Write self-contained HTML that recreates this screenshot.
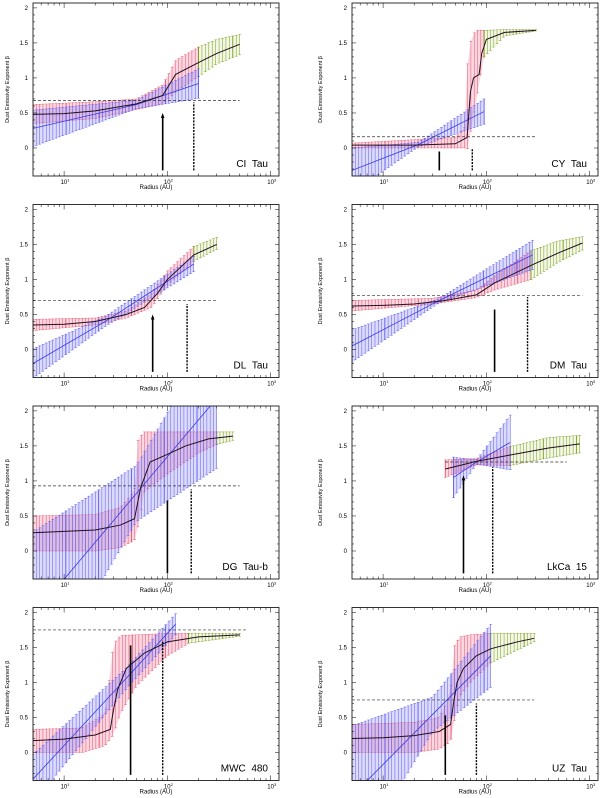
<!DOCTYPE html>
<html><head><meta charset="utf-8"><style>
html,body{margin:0;padding:0;background:#fff;overflow:hidden;}
svg{display:block;font-family:"Liberation Sans",sans-serif;}
</style></head><body>
<svg id="fig" width="600" height="798" viewBox="0 0 600 798" xmlns="http://www.w3.org/2000/svg"></svg>
<script>
// ---- data (radius in AU, beta) ----
const names=["CI Tau","CY Tau","DL Tau","DM Tau","DG Tau-b","LkCa 15","MWC 480","UZ Tau"];
const yTicks=[0,0.5,1,1.5,2];
const yTickLabels=["0","0.5","1","1.5","2"];
const xTicks=[10,100,1000];
const xTickExps=["1","2","3"];

const ciCurveR=[5,10,20,50,90,120,200,300,500], ciCurveB=[0.48,0.49,0.53,0.63,0.75,1.05,1.22,1.35,1.48];
const ciBandR=[5,20,50,90,120,200,300,500], ciLo=[0.35,0.42,0.55,0.63,0.8,1.02,1.2,1.33], ciHi=[0.62,0.66,0.70,0.9,1.25,1.44,1.55,1.62];
const ciBlueR=[5,50,200], ciBlueMid=[0.28,0.62,0.92], ciBlueHalf=[0.26,0.06,0.21];
const ciMarks=[0.68,500,90,0.5,180,0.65,200];

const cyCurveR=[5,20,50,65,70,75,85,90,100,150,300], cyCurveB=[0.04,0.04,0.06,0.15,0.8,1.0,1.05,1.35,1.55,1.65,1.68];
const cyBandR=[5,50,62,65,72,80,95,150,300], cyLo=[0,0,0,-0.05,0.3,0.7,1.3,1.6,1.67], cyHi=[0.07,0.15,0.3,1.15,1.6,1.68,1.68,1.69,1.69];
const cyBlueR=[5,22,95], cyBlueMid=[-0.32,0.05,0.52], cyBlueHalf=[0.32,0.03,0.18];
const cyMarks=[0.16,300,35,-0.05,73,0.0,95];

const dlCurveR=[5,10,20,40,60,80,100,140,180,300], dlCurveB=[0.35,0.36,0.4,0.5,0.6,0.8,1.0,1.2,1.35,1.5];
const dlBandR=[5,20,40,70,100,180,300], dlLo=[0.27,0.35,0.45,0.6,0.92,1.26,1.43], dlHi=[0.43,0.45,0.55,0.8,1.12,1.47,1.6];
const dlBlueR=[5,25,180], dlBlueMid=[-0.2,0.4,1.22], dlBlueHalf=[0.21,0.07,0.11];
const dlMarks=[0.7,300,72,0.5,155,0.65,180];

const dmCurveR=[5,10,20,40,80,120,270,500,850], dmCurveB=[0.62,0.63,0.65,0.7,0.78,0.95,1.2,1.38,1.52];
const dmBandR=[5,30,80,120,270,500,850], dmLo=[0.55,0.65,0.74,0.85,1.0,1.25,1.42], dmHi=[0.7,0.73,0.85,1.05,1.41,1.55,1.61];
const dmBlueR=[5,35,280], dmBlueMid=[0.05,0.7,1.35], dmBlueHalf=[0.23,0.03,0.21];
const dmMarks=[0.77,850,120,0.57,250,0.75,270];

const dgCurveR=[5,10,20,35,48,55,68,100,150,250,430], dgCurveB=[0.26,0.28,0.3,0.37,0.46,0.9,1.27,1.38,1.5,1.6,1.64];
const dgBandR=[5,20,35,48,52,60,100,200,300,430], dgLo=[0,0,0.05,0.15,0.35,0.85,1.1,1.4,1.52,1.58], dgHi=[0.5,0.52,0.62,0.85,1.6,1.7,1.7,1.7,1.7,1.7];
const dgBlueR=[5,50,300], dgBlueMid=[-0.93,0.82,2.18], dgBlueHalf=[1.2,0.4,1.0];
const dgMarks=[0.93,500,100,0.72,170,0.88,300];

const lkCurveR=[40,80,170,400,800], lkCurveB=[1.17,1.28,1.37,1.47,1.53];
const lkBandR=[40,80,170,400,800], lkLo=[1.05,1.23,1.22,1.33,1.4], lkHi=[1.3,1.32,1.49,1.62,1.65];
const lkBlueR=[48,80,170], lkBlueMid=[1.05,1.27,1.55], lkBlueHalf=[0.29,0.03,0.39];
const lkMarks=[1.27,600,60,1.08,115,1.2,170];

const mwCurveR=[5,10,20,28,30,33,40,60,100,200,500], mwCurveB=[0.17,0.19,0.25,0.33,0.6,0.9,1.2,1.42,1.58,1.65,1.68];
const mwBandR=[5,15,25,30,35,50,100,160,500], mwLo=[0,0,0.1,0.25,0.55,0.95,1.38,1.56,1.66], mwHi=[0.33,0.35,0.55,1.55,1.67,1.68,1.7,1.7,1.7];
const mwBlueR=[5,40,120], mwBlueMid=[-0.38,1.06,1.83], mwBlueHalf=[0.35,0.15,0.15];
const mwMarks=[1.75,600,44,1.53,90,1.6,160];

const uzCurveR=[5,10,20,35,45,48,52,60,80,110,200,290], uzCurveB=[0.2,0.21,0.24,0.3,0.4,0.7,1.0,1.2,1.38,1.48,1.58,1.63];
const uzBandR=[5,20,35,45,48,55,70,110,290], uzLo=[0,0,0.05,0.15,0.4,0.8,1.0,1.28,1.58], uzHi=[0.4,0.43,0.5,0.85,1.5,1.65,1.68,1.7,1.7];
const uzBlueR=[5,30,110], uzBlueMid=[-0.62,0.54,1.38], uzBlueHalf=[1.0,0.25,0.45];
const uzMarks=[0.75,290,40,0.53,80,0.7,110];

const arrowHeads=[true,false,true,false,false,true,false,false];

const panels=[
 [ciCurveR,ciCurveB,ciBandR,ciLo,ciHi,ciBlueR,ciBlueMid,ciBlueHalf,ciMarks],
 [cyCurveR,cyCurveB,cyBandR,cyLo,cyHi,cyBlueR,cyBlueMid,cyBlueHalf,cyMarks],
 [dlCurveR,dlCurveB,dlBandR,dlLo,dlHi,dlBlueR,dlBlueMid,dlBlueHalf,dlMarks],
 [dmCurveR,dmCurveB,dmBandR,dmLo,dmHi,dmBlueR,dmBlueMid,dmBlueHalf,dmMarks],
 [dgCurveR,dgCurveB,dgBandR,dgLo,dgHi,dgBlueR,dgBlueMid,dgBlueHalf,dgMarks],
 [lkCurveR,lkCurveB,lkBandR,lkLo,lkHi,lkBlueR,lkBlueMid,lkBlueHalf,lkMarks],
 [mwCurveR,mwCurveB,mwBandR,mwLo,mwHi,mwBlueR,mwBlueMid,mwBlueHalf,mwMarks],
 [uzCurveR,uzCurveB,uzBandR,uzLo,uzHi,uzBlueR,uzBlueMid,uzBlueHalf,uzMarks]
];

const NS="http://www.w3.org/2000/svg";
const svg=document.getElementById('fig');
function mk(tag,attrs,parent){const e=document.createElementNS(NS,tag);for(const k in attrs)e.setAttribute(k,attrs[k]);(parent||svg).appendChild(e);return e;}
function interp(rs,vs,r){const l=Math.log10(r);
 if(r<=rs[0])return vs[0]+(vs[1]-vs[0])*(l-Math.log10(rs[0]))/(Math.log10(rs[1])-Math.log10(rs[0]));
 for(let i=0;i<rs.length-1;i++){if(r<=rs[i+1]){const a=Math.log10(rs[i]),b=Math.log10(rs[i+1]);return vs[i]+(vs[i+1]-vs[i])*(l-a)/(b-a);}}
 const n=rs.length;return vs[n-2]+(vs[n-1]-vs[n-2])*(l-Math.log10(rs[n-2]))/(Math.log10(rs[n-1])-Math.log10(rs[n-2]));}

const W=246,H=173,LMIN=0.699,LSPAN=2.381,BMAX=2.07,BSPAN=2.47;
panels.forEach((p,i)=>{
 const [cR,cB,bR,lo,hi,blR,blM,blH,mk8]=p;
 const col=i%2,row=Math.floor(i/2);
 const x0=col?352:33, top=3+201.5*row;
 const xs=r=>x0+(Math.log10(r)-LMIN)/LSPAN*W;
 const ys=b=>top+(BMAX-b)/BSPAN*H;
 const rx=x=>Math.pow(10,LMIN+(x-x0)/W*LSPAN);
 const g=mk('g',{});
 
 
 const cid='clip'+i;
 const cp=mk('clipPath',{id:cid},g);mk('rect',{x:x0,y:top,width:W,height:H},cp);
 const pl=mk('g',{'clip-path':'url(#'+cid+')'},g);
 function band(rs,los,his,r0,r1,fill,stroke,name,midArr,isMid){
  const bg=mk('g',{},pl);
  
  
  const xa=xs(r0),xb=xs(r1);let up=[],dn=[];
  const N=Math.max(2,Math.round((xb-xa)/3.3));
  for(let k=0;k<=N;k++){const x=xa+(xb-xa)*k/N,r=rx(x);
   let m=0,l,h;
   if(isMid){m=interp(rs,midArr,r);const hw=interp(rs,los,r);l=m-hw;h=m+hw;}else{l=interp(rs,los,r);h=interp(rs,his,r);}
   up.push(x.toFixed(2)+','+ys(h).toFixed(2));dn.unshift(x.toFixed(2)+','+ys(l).toFixed(2));
   const sw=(k%10==0)?0.9:0.5;
   mk('line',{x1:x,x2:x,y1:ys(l),y2:ys(h),stroke:stroke,'stroke-width':sw},bg);
   mk('line',{x1:x-1.3,x2:x+1.3,y1:ys(h),y2:ys(h),stroke:stroke,'stroke-width':0.5},bg);
   mk('line',{x1:x-1.3,x2:x+1.3,y1:ys(l),y2:ys(l),stroke:stroke,'stroke-width':0.5},bg);
  }
  bg.insertBefore(mk('polygon',{points:up.concat(dn).join(' '),fill:fill,stroke:'none'},bg),bg.firstChild);
 }
 const gFrom=mk8[6];
 band(bR,lo,hi,bR[0],gFrom,'rgba(240,110,150,0.28)','#e8506a','red-band');
 band(bR,lo,hi,gFrom,bR[bR.length-1],'rgba(170,200,90,0.15)','#7a9a1a','green-band');
 band(blR,blH,null,blR[0],blR[blR.length-1],'rgba(120,110,240,0.25)','#5a5af0','blue-band',blM,true);
 const bl=mk('polyline',{points:blR.map((r,k)=>xs(r)+','+ys(blM[k])).join(' '),fill:'none',stroke:'#3a3ae0','stroke-width':0.8},pl);
 
 
 const cv=mk('polyline',{points:cR.map((r,k)=>xs(r)+','+ys(cB[k])).join(' '),fill:'none',stroke:'#201020','stroke-width':1},pl);
 
 
 const dh=mk('line',{x1:xs(cR[0]<bR[0]?cR[0]:bR[0]),x2:xs(mk8[1]),y1:ys(mk8[0]),y2:ys(mk8[0]),stroke:'#333','stroke-width':0.7,'stroke-dasharray':'3,2'},pl);
 
 
 const ar=mk('line',{x1:xs(mk8[2]),x2:xs(mk8[2]),y1:ys(-0.32),y2:ys(mk8[3])+(arrowHeads[i]?3:0),stroke:'#000','stroke-width':1.6},pl);
 
 
 if(arrowHeads[i]){const ax=xs(mk8[2]),ay=ys(mk8[3]);
  const ah=mk('polygon',{points:`${ax-1.8},${ay+5} ${ax+1.8},${ay+5} ${ax},${ay}`,fill:'#000'},pl);
  
  }
 const dv=mk('line',{x1:xs(mk8[4]),x2:xs(mk8[4]),y1:ys(-0.32),y2:ys(mk8[5]),stroke:'#000','stroke-width':1.4,'stroke-dasharray':'2,1.2'},pl);
 
 
 const fr=mk('rect',{x:x0,y:top,width:W,height:H,fill:'none',stroke:'#000','stroke-width':0.8},g);
 
 
 for(let v=-0.3;v<=2.05;v+=0.1){const vv=Math.round(v*10)/10;const y=ys(vv);const maj=Math.abs(vv*2-Math.round(vv*2))<1e-6;const L=maj?4:2;
  mk('line',{x1:x0,x2:x0+L,y1:y,y2:y,stroke:'#000','stroke-width':0.5},g);
  mk('line',{x1:x0+W,x2:x0+W-L,y1:y,y2:y,stroke:'#000','stroke-width':0.5},g);}
 yTicks.forEach((v,k)=>{const t=mk('text',{x:x0-5,y:ys(v)+2,'font-size':6,'text-anchor':'end'},g);t.textContent=yTickLabels[k];
  
  });
 for(let d=0;d<4;d++)for(let m=1;m<10;m++){const r=m*Math.pow(10,d);const x=xs(r);if(x<x0||x>x0+W)continue;const L=m==1?5:2.5;
  mk('line',{x1:x,x2:x,y1:top+H,y2:top+H-L,stroke:'#000','stroke-width':0.5},g);
  mk('line',{x1:x,x2:x,y1:top,y2:top+L,stroke:'#000','stroke-width':0.5},g);}
 xTicks.forEach((r,k)=>{const t=mk('text',{x:xs(r)-3.5,y:top+H+8,'font-size':6},g);
  
  
  const a=mk('tspan',{},t);a.textContent='10';
  const s=mk('tspan',{'font-size':4,dy:-2.5},t);s.textContent=xTickExps[k];});
 const xl=mk('text',{x:x0+W/2,y:top+H+13,'font-size':6,'text-anchor':'middle'},g);xl.textContent='Radius (AU)';
 
 
 const lx=col?322:9,ly=top+H/2;
 const yl=mk('text',{x:lx,y:ly,'font-size':5.5,'text-anchor':'middle',transform:`rotate(-90 ${lx} ${ly})`},g);yl.textContent='Dust Emissivity Exponent β';
 
 
 const nl=mk('text',{x:x0+W-11,y:top+H-9,'font-size':10,'text-anchor':'end'},g);nl.textContent=names[i].replace(' ','\u00a0\u00a0');
 
 
});
</script>
</body></html>
